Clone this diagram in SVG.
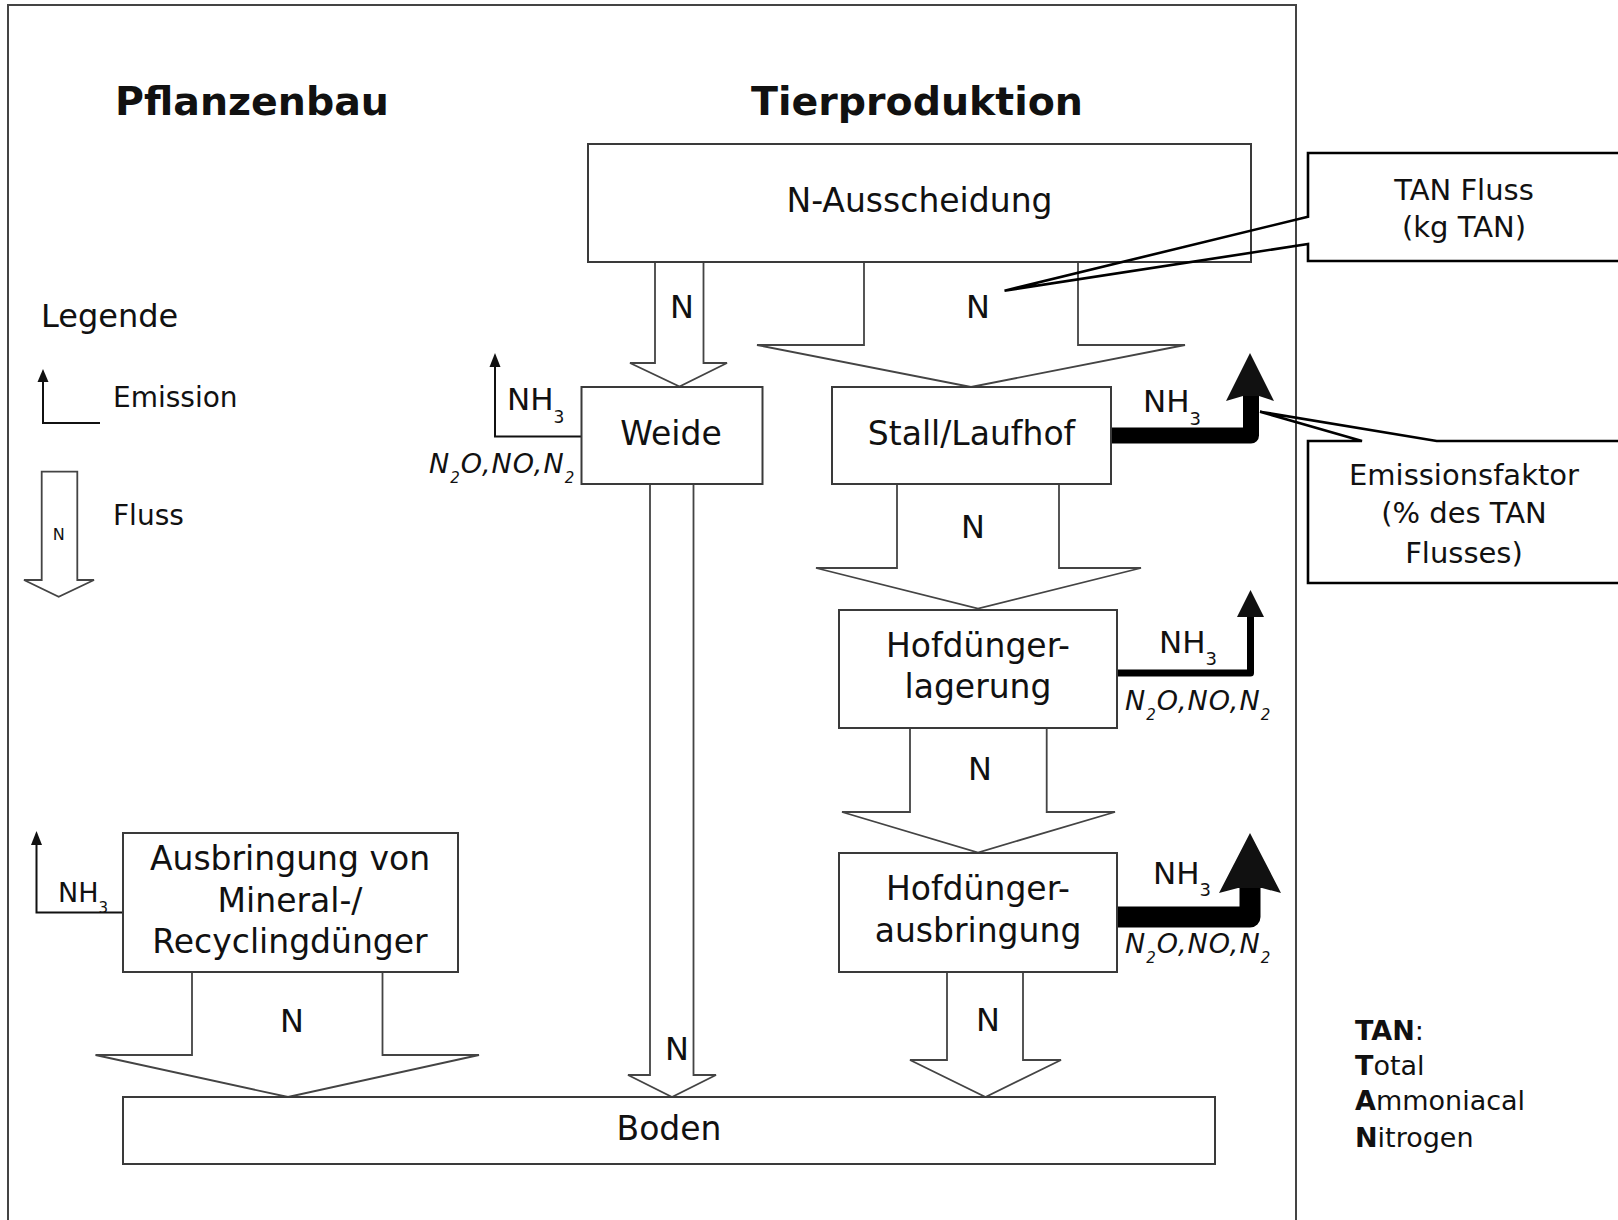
<svg xmlns="http://www.w3.org/2000/svg" width="1618" height="1220" viewBox="0 0 1618 1220">
<style>
  text { font-family: "DejaVu Sans", "Liberation Sans", sans-serif; fill: #111; }
  .title { font-weight: bold; font-size: 39.5px; }
  .lbl { font-size: 33px; text-anchor: middle; }
  .n { font-size: 32px; text-anchor: middle; }
  .nh { font-size: 31px; }
  .gas { font-size: 27px; font-style: italic; letter-spacing: 1px; }
  .call { font-size: 29px; text-anchor: middle; }
  .leg { font-size: 28px; }
  .box { fill: #fff; stroke: #3a3a3a; stroke-width: 2; }
  .flow { fill: #fff; stroke: #444; stroke-width: 1.8; stroke-linejoin: miter; }
  .emi { fill: none; stroke: #111; stroke-width: 2; }
  .head { fill: #111; stroke: none; }
  .thick { fill: none; stroke: #000; stroke-linejoin: round; }
  .callout { fill: none; stroke: #000; stroke-width: 2.6; }
</style>

<rect id="frame" x="8" y="5" width="1288" height="1230" fill="none" stroke="#444" stroke-width="2"/>

<text class="title" x="115" y="115">Pflanzenbau</text>
<text class="title" x="751" y="115">Tierproduktion</text>

<g id="legend">
  <text x="41" y="327" font-size="32">Legende</text>
  <path class="emi" d="M100,423 H43 V380"/>
  <polygon class="head" points="43,369 37.5,382 48.5,382"/>
  <text class="leg" x="113" y="407">Emission</text>
  <polygon class="flow" points="41.7,471.7 77.3,471.7 77.3,580 94,580 58.7,596.7 24,580 41.7,580"/>
  <text x="58.7" y="540" font-size="16" text-anchor="middle">N</text>
  <text class="leg" x="113" y="525">Fluss</text>
</g>

<g id="connectors">
  <!-- N-Ausscheidung -> Weide -->
  <polyline class="flow" points="655,262 655,363 630,363 679.5,386.5 727,363 703.5,363 703.5,262"/>
  <!-- N-Ausscheidung -> Stall -->
  <polyline class="flow" points="864,262 864,345 757,345 971,387 1185,345 1078,345 1078,262"/>
  <!-- Stall -> Hofduenger-lagerung -->
  <polyline class="flow" points="897,484 897,568 816,568 978,608.5 1141,568 1059,568 1059,484"/>
  <!-- Hofduengerlagerung -> ausbringung -->
  <polyline class="flow" points="910,728 910,812 842,812 978,852.5 1115,812 1046.7,812 1046.7,728"/>
  <!-- Hofduengerausbringung -> Boden -->
  <polyline class="flow" points="947,972 947,1060 910,1060 985.5,1097 1061,1060 1023,1060 1023,972"/>
  <!-- Weide -> Boden -->
  <polyline class="flow" points="650,484 650,1075 628,1075 672,1097 716,1075 693.5,1075 693.5,484"/>
  <!-- Ausbringung Mineral -> Boden -->
  <polyline class="flow" points="192,972 192,1055 95.5,1055 288,1097 479,1055 382.5,1055 382.5,972"/>

  <text class="n" x="682" y="318">N</text>
  <text class="n" x="978" y="318">N</text>
  <text class="n" x="973" y="538">N</text>
  <text class="n" x="980" y="780">N</text>
  <text class="n" x="988" y="1031">N</text>
  <text class="n" x="677" y="1060">N</text>
  <text class="n" x="292" y="1032">N</text>

  <!-- Weide emission -->
  <path class="emi" d="M581.5,436.5 H495 V366"/>
  <polygon class="head" points="495,353 489.5,367 500.5,367"/>
  <text class="nh" x="507" y="410">NH<tspan font-size="17" dy="13">3</tspan></text>
  <text class="gas" x="429" y="473">N<tspan font-size="15" dy="10">2</tspan><tspan dy="-10">O,NO,N</tspan><tspan font-size="15" dy="10">2</tspan></text>

  <!-- Stall emission (thick) -->
  <path class="thick" stroke-width="16" d="M1111,435.5 H1251 V392"/>
  <polygon class="head" points="1250,353 1274,401 1259,396 1243,396 1226,401"/>
  <text class="nh" x="1143" y="412">NH<tspan font-size="18" dy="13">3</tspan></text>

  <!-- Hofduengerlagerung emission (medium) -->
  <path class="thick" stroke-width="7" d="M1117,673 H1250.5 V612"/>
  <polygon class="head" points="1250.5,590 1264,617 1237,617"/>
  <text class="nh" x="1159" y="653">NH<tspan font-size="18" dy="12">3</tspan></text>
  <text class="gas" x="1125" y="710">N<tspan font-size="15" dy="10">2</tspan><tspan dy="-10">O,NO,N</tspan><tspan font-size="15" dy="10">2</tspan></text>

  <!-- Hofduengerausbringung emission (thick) -->
  <path class="thick" stroke-width="21" d="M1117,917 H1250 V880"/>
  <polygon class="head" points="1250,833 1281,893 1262,888 1238,888 1219,893"/>
  <text class="nh" x="1153" y="884">NH<tspan font-size="18" dy="12">3</tspan></text>
  <text class="gas" x="1125" y="953">N<tspan font-size="15" dy="10">2</tspan><tspan dy="-10">O,NO,N</tspan><tspan font-size="15" dy="10">2</tspan></text>

  <!-- Mineral emission -->
  <path class="emi" d="M123,912.5 H36.5 V845"/>
  <polygon class="head" points="36.5,831 31,845 42,845"/>
  <text x="58" y="902" font-size="27">NH<tspan font-size="15" dy="11">3</tspan></text>
</g>

<g id="n-ausscheidung">
  <rect class="box" x="588" y="144" width="663" height="118"/>
  <text class="lbl" x="919.5" y="212">N-Ausscheidung</text>
</g>

<g id="weide">
  <rect class="box" x="581.5" y="387" width="181" height="97"/>
  <text class="lbl" x="671" y="445" font-size="32">Weide</text>
</g>

<g id="stall">
  <rect class="box" x="832" y="387" width="279" height="97"/>
  <text class="lbl" x="971.5" y="445">Stall/Laufhof</text>
</g>

<g id="hofduenger-lagerung">
  <rect class="box" x="839" y="610" width="278" height="118"/>
  <text class="lbl" x="978" y="657" font-size="32.5">Hofdünger-</text>
  <text class="lbl" x="978" y="698" font-size="32.5">lagerung</text>
</g>

<g id="hofduenger-ausbringung">
  <rect class="box" x="839" y="853" width="278" height="119"/>
  <text class="lbl" x="978" y="900" font-size="32.5">Hofdünger-</text>
  <text class="lbl" x="978" y="941.5" font-size="32.5">ausbringung</text>
</g>

<g id="ausbringung-mineral">
  <rect class="box" x="123" y="833" width="335" height="139"/>
  <text class="lbl" x="290" y="870">Ausbringung von</text>
  <text class="lbl" x="290" y="911.5">Mineral-/</text>
  <text class="lbl" x="290" y="953">Recyclingdünger</text>
</g>

<g id="boden">
  <rect class="box" x="123" y="1097" width="1092" height="67"/>
  <text class="lbl" x="669" y="1140" font-size="32">Boden</text>
</g>

<g id="callout-tan-fluss">
  <rect x="1308" y="153" width="320" height="108" fill="#fff" stroke="none"/>
  <path class="callout" d="M1625,153 H1308 V216.7 L1004.5,290.7 L1308,244 V261 H1625"/>
  <text class="call" x="1464" y="200" font-size="30">TAN Fluss</text>
  <text class="call" x="1464" y="237" font-size="30">(kg TAN)</text>
</g>

<g id="callout-emissionsfaktor">
  <rect x="1308" y="441" width="320" height="142" fill="#fff" stroke="none"/>
  <path class="callout" d="M1625,441 H1436.7 L1260,411.7 L1362,441 H1308 V583 H1625"/>
  <text class="call" x="1464" y="485">Emissionsfaktor</text>
  <text class="call" x="1464" y="523">(% des TAN</text>
  <text class="call" x="1464" y="563">Flusses)</text>
</g>

<g id="tan-legend">
  <text x="1355" y="1040" font-size="27"><tspan font-weight="bold">TAN</tspan>:</text>
  <text x="1355" y="1075" font-size="27"><tspan font-weight="bold">T</tspan>otal</text>
  <text x="1355" y="1110" font-size="27"><tspan font-weight="bold">A</tspan>mmoniacal</text>
  <text x="1355" y="1146.5" font-size="27"><tspan font-weight="bold">N</tspan>itrogen</text>
</g>
</svg>
